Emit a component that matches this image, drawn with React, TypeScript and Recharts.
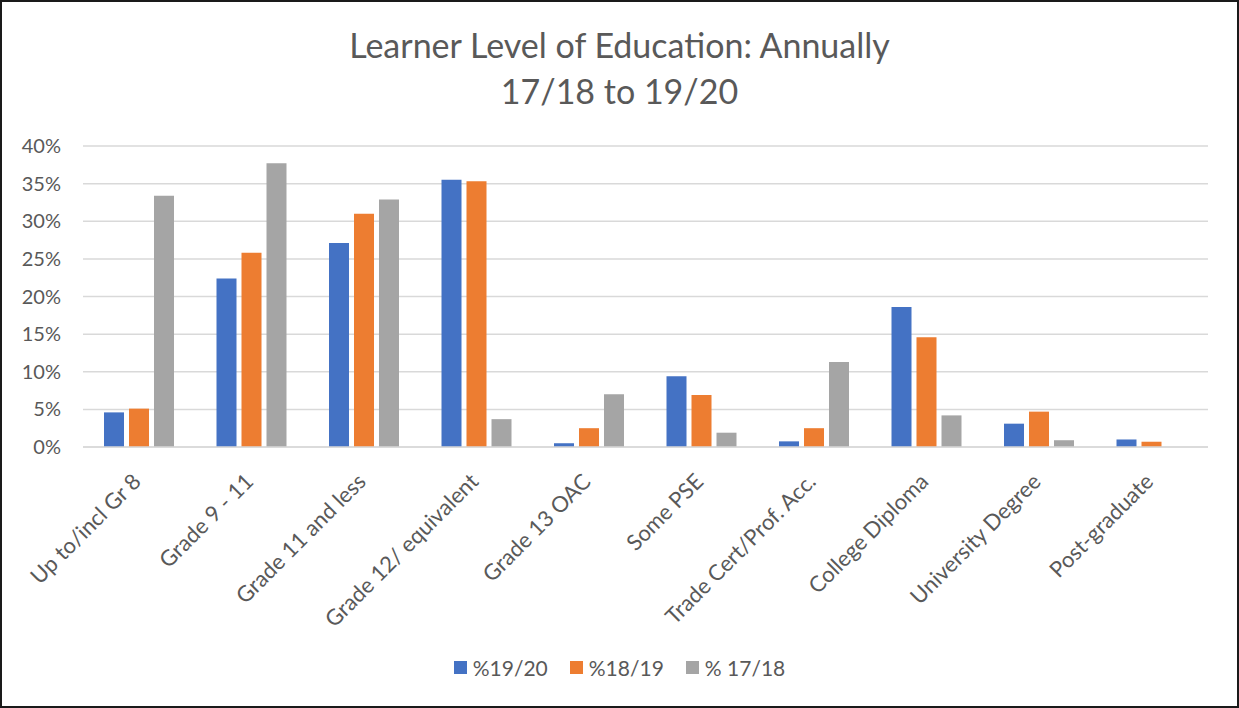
import React from "react";
import {
  BarChart,
  Bar,
  XAxis,
  YAxis,
  CartesianGrid,
  Legend,
} from "recharts";

const categories = [
  "Up to/incl Gr 8",
  "Grade 9 - 11",
  "Grade 11 and less",
  "Grade 12/ equivalent",
  "Grade 13 OAC",
  "Some PSE",
  "Trade Cert/Prof. Acc.",
  "College Diploma",
  "University Degree",
  "Post-graduate",
];

const pct1920 = [4.6, 22.4, 27.1, 35.5, 0.5, 9.4, 0.75, 18.6, 3.1, 1.0];
const pct1819 = [5.1, 25.8, 31.0, 35.3, 2.5, 6.9, 2.5, 14.6, 4.7, 0.7];
const pct1718 = [33.4, 37.7, 32.9, 3.7, 7.0, 1.9, 11.3, 4.2, 0.9, 0];

const yTicks = [0, 5, 10, 15, 20, 25, 30, 35, 40];

const seriesNames = ["%19/20", "%18/19", "% 17/18"];
const colors = ["#4472C4", "#ED7D31", "#A5A5A5"];

const data = categories.map((name, i) => ({
  name,
  s1920: pct1920[i],
  s1819: pct1819[i],
  s1718: pct1718[i],
}));

const FONT = "Lato, 'Open Sans', sans-serif";
const TEXT = "#595959";

// rotated category labels, end of text sits just right of the category centre
const XTick = (props: any) => {
  const { x, y, payload } = props;
  return (
    <g transform={`translate(${x + 3},${y + 36})`}>
      <text
        x={0}
        y={0}
        textAnchor="end"
        transform="rotate(-45)"
        fill={TEXT}
        fontSize={22}
        fontFamily={FONT}
      >
        {payload.value}
      </text>
    </g>
  );
};

const LegendBox = () => (
  <div
    style={{
      display: "flex",
      justifyContent: "center",
      alignItems: "center",
      fontFamily: FONT,
      fontSize: 21,
      color: TEXT,
    }}
  >
    {seriesNames.map((n, i) => (
      <div key={n} style={{ display: "flex", alignItems: "center", margin: "0 11px" }}>
        <span
          style={{
            display: "inline-block",
            width: 13,
            height: 13,
            background: colors[i],
            marginRight: 6,
          }}
        />
        <span>{n}</span>
      </div>
    ))}
  </div>
);

export default function App() {
  return (
    <div
      style={{
        position: "relative",
        width: 1239,
        height: 708,
        border: "2px solid #1a1a1a",
        boxSizing: "border-box",
        background: "#fff",
      }}
    >
      <style>{`body{margin:0}`}</style>
      <div
        style={{
          position: "absolute",
          top: 20,
          left: 0,
          width: 1235,
          textAlign: "center",
          fontFamily: FONT,
          fontWeight: 400,
          fontSize: 34,
          lineHeight: "46px",
          color: TEXT,
        }}
      >
        <div>Learner Level of Education: Annually</div>
        <div>17/18 to 19/20</div>
      </div>
      <BarChart
        width={1235}
        height={704}
        data={data}
        margin={{ top: 144, right: 29, left: 0, bottom: 0 }}
        barSize={20}
        barGap={5}
      >
        <CartesianGrid vertical={false} stroke="#D9D9D9" strokeWidth={1.5} />
        <XAxis
          dataKey="name"
          interval={0}
          tickLine={false}
          tickSize={0}
          tickMargin={0}
          axisLine={{ stroke: "#D9D9D9", strokeWidth: 1.5 }}
          height={229}
          tick={<XTick />}
        />
        <YAxis
          width={81}
          domain={[0, 40]}
          ticks={yTicks}
          tickFormatter={(v) => `${v}%`}
          axisLine={false}
          tickLine={false}
          tickSize={0}
          tickMargin={22}
          tick={{ fill: TEXT, fontSize: 20, fontFamily: FONT }}
        />
        <Legend
          verticalAlign="bottom"
          height={30}
          content={<LegendBox />}
          wrapperStyle={{ top: 653, bottom: "auto", left: 0, width: 1235 }}
        />
        <Bar dataKey="s1920" name={seriesNames[0]} fill={colors[0]} isAnimationActive={false} />
        <Bar dataKey="s1819" name={seriesNames[1]} fill={colors[1]} isAnimationActive={false} />
        <Bar dataKey="s1718" name={seriesNames[2]} fill={colors[2]} isAnimationActive={false} />
      </BarChart>
    </div>
  );
}
